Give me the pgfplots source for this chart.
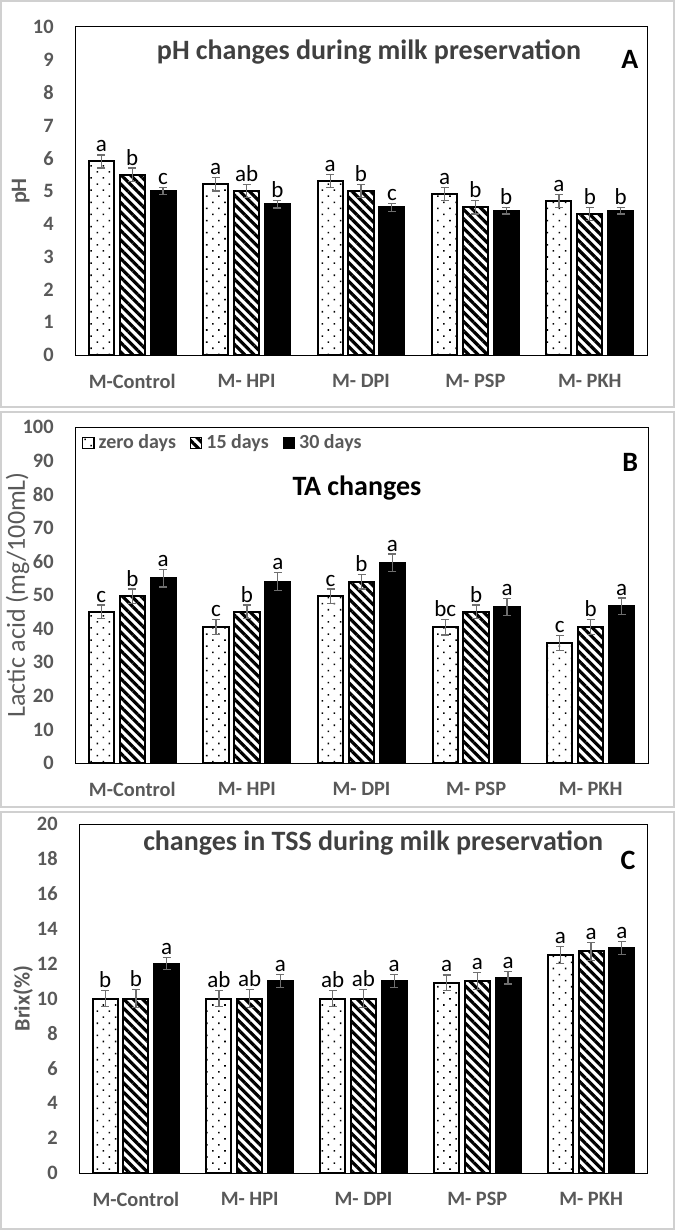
\documentclass[border=0pt]{standalone}
\usepackage{pgfplots}
\pgfplotsset{compat=1.18}
\usepackage{fontspec}
\setmainfont{Carlito}
\usetikzlibrary{patterns.meta}
\definecolor{tickgray}{HTML}{595959}
\definecolor{titlegray}{HTML}{404040}
\definecolor{framegray}{HTML}{D0D0D0}
\definecolor{errgray}{HTML}{6F6F6F}

\pgfplotsset{
  myax/.style={
    scale only axis, clip=false,
    xmin=-0.5, xmax=4.5, ymin=0,
    xtick={0,1,2,3,4},
    xticklabels={M-Control, M- HPI, M- DPI, M- PSP, M- PKH},
    major tick length=0pt,
    axis line style={black, line width=0.5pt},
    /pgf/number format/assume math mode=true,
    xticklabel style={font=\fontsize{10.2}{12}\selectfont\bfseries, text=tickgray, anchor=center, yshift=-13pt},
    yticklabel style={font=\fontsize{10.2}{12}\selectfont\bfseries, text=tickgray, anchor=east, inner sep=0pt, xshift=-10.5pt},
    every axis y label/.style={at={(axis description cs:-0.095,0.5)}, rotate=90, anchor=center, font=\fontsize{11}{13}\selectfont\bfseries, text=tickgray},
  },
  limg/.style={legend image code/.code={\draw[##1, line width=0.6pt] (0pt,-2.8pt) rectangle (5.6pt,2.8pt);}},
  b0/.style={ybar, bar width=0.22, bar shift=-0.27, draw=black, line width=1pt,
    pattern={Dots[radius=0.55pt, distance=4.3pt, angle=45]}, pattern color=black, limg},
  b1/.style={ybar, bar width=0.22, bar shift=0, draw=black, line width=1pt,
    pattern={Lines[angle=-45, distance=3.3pt, line width=1.6pt]}, pattern color=black, limg},
  b2/.style={ybar, bar width=0.22, bar shift=0.27, draw=black, line width=1pt,
    fill=black, limg},
  errp/.style={draw=none, mark=none, forget plot,
    error bars/.cd, y dir=both, y explicit,
    error bar style={errgray, line width=0.6pt},
    error mark options={rotate=90, errgray, mark size=2pt, line width=0.6pt}},
  lab/.style={draw=none, mark=none, forget plot, nodes near coords, point meta=explicit symbolic,
    nodes near coords align={above},
    every node near coord/.append style={font=\fontsize{11.5}{13}\selectfont, text=black, inner sep=1.2pt}},
}

\begin{document}
\begin{tikzpicture}
\path[use as bounding box] (0,0) rectangle (337.5pt,-615pt);
\draw[framegray, line width=1pt] (0.5pt,-0.5pt) rectangle (337pt,-203.5pt);
\draw[framegray, line width=1pt] (0.5pt,-206pt) rectangle (337pt,-403.5pt);
\draw[framegray, line width=1pt] (0.5pt,-406pt) rectangle (337pt,-614.5pt);

% ---------------- Panel A
\begin{axis}[myax, at={(37.5pt,-177.5pt)}, anchor=south west,
  width=286pt, height=164pt, ymax=10, ytick={0,1,...,10}, ylabel={pH}]
\addplot[b0] coordinates {(0,5.9) (1,5.2) (2,5.3) (3,4.9) (4,4.7)};
\addplot[b1] coordinates {(0,5.5) (1,5.0) (2,5.0) (3,4.5) (4,4.3)};
\addplot[b2] coordinates {(0,5.0) (1,4.6) (2,4.5) (3,4.4) (4,4.4)};
\addplot[errp] coordinates {(-0.27,5.9) +- (0,0.2) (0.73,5.2) +- (0,0.2) (1.73,5.3) +- (0,0.2) (2.73,4.9) +- (0,0.2) (3.73,4.7) +- (0,0.2)};
\addplot[errp] coordinates {(0,5.5) +- (0,0.2) (1,5.0) +- (0,0.2) (2,5.0) +- (0,0.2) (3,4.5) +- (0,0.2) (4,4.3) +- (0,0.2)};
\addplot[errp] coordinates {(0.27,5.0) +- (0,0.1) (1.27,4.6) +- (0,0.12) (2.27,4.5) +- (0,0.12) (3.27,4.4) +- (0,0.1) (4.27,4.4) +- (0,0.1)};
\addplot[lab] coordinates {(-0.27,6.1) [a] (0.73,5.4) [a] (1.73,5.5) [a] (2.73,5.1) [a] (3.73,4.9) [a]};
\addplot[lab] coordinates {(0,5.7) [b] (1,5.2) [ab] (2,5.2) [b] (3,4.7) [b] (4,4.5) [b]};
\addplot[lab] coordinates {(0.27,5.1) [c] (1.27,4.72) [b] (2.27,4.62) [c] (3.27,4.5) [b] (4.27,4.5) [b]};
\node[font=\fontsize{14}{16}\selectfont\bfseries, text=titlegray] at (rel axis cs:0.514,0.925) {pH changes during milk preservation};
\node[font=\fontsize{14}{16}\selectfont\bfseries, text=black] at (rel axis cs:0.97,0.90) {A};
\end{axis}

% ---------------- Panel B
\begin{axis}[myax, at={(37.5pt,-381.5pt)}, anchor=south west,
  width=286.5pt, height=168pt, ymax=100, ytick={0,10,...,100},
  ylabel={Lactic acid (mg/100mL)},
  every axis y label/.append style={at={(axis description cs:-0.1,0.5)}, font=\fontsize{13}{15}\selectfont},
  legend style={at={(axis description cs:0.012,0.952)}, anchor=west, draw=none, fill=none,
    legend columns=3, font=\fontsize{10}{12}\selectfont\bfseries, text=tickgray, inner sep=0pt,
    /tikz/every even column/.append style={column sep=5pt}},
  legend cell align=left]
\addplot[b0] coordinates {(0,45) (1,40.5) (2,49.6) (3,40.4) (4,35.8)};
\addplot[b1] coordinates {(0,49.6) (1,45) (2,54) (3,45) (4,40.4)};
\addplot[b2] coordinates {(0,55) (1,54) (2,59.6) (3,46.5) (4,46.7)};
\legend{zero days, 15 days, 30 days}
\addplot[errp] coordinates {(-0.27,45) +- (0,2) (0.73,40.5) +- (0,2.2) (1.73,49.6) +- (0,2.2) (2.73,40.4) +- (0,2.3) (3.73,35.8) +- (0,2.2)};
\addplot[errp] coordinates {(0,49.6) +- (0,2.2) (1,45) +- (0,2) (2,54) +- (0,2.2) (3,45) +- (0,2) (4,40.4) +- (0,2.2)};
\addplot[errp] coordinates {(0.27,55) +- (0,2.6) (1.27,54) +- (0,2.6) (2.27,59.6) +- (0,2.6) (3.27,46.5) +- (0,2.5) (4.27,46.7) +- (0,2.4)};
\addplot[lab] coordinates {(-0.27,47) [c] (0.73,42.7) [c] (1.73,51.8) [c] (2.73,42.7) [bc] (3.73,38) [c]};
\addplot[lab] coordinates {(0,51.8) [b] (1,47) [b] (2,56.2) [b] (3,47) [b] (4,42.6) [b]};
\addplot[lab] coordinates {(0.27,57.6) [a] (1.27,56.6) [a] (2.27,62.2) [a] (3.27,49) [a] (4.27,49.1) [a]};
\node[font=\fontsize{14}{16}\selectfont\bfseries, text=black] at (rel axis cs:0.492,0.818) {TA changes};
\node[font=\fontsize{14}{16}\selectfont\bfseries, text=black] at (rel axis cs:0.969,0.896) {B};
\end{axis}

% ---------------- Panel C
\begin{axis}[myax, at={(39.5pt,-586.5pt)}, anchor=south west,
  width=284.5pt, height=174.5pt, ymax=20, ytick={0,2,...,20}, ylabel={Brix(\%)},
  every axis y label/.append style={at={(axis description cs:-0.098,0.5)}}]
\addplot[b0] coordinates {(0,10) (1,10) (2,10) (3,10.9) (4,12.5)};
\addplot[b1] coordinates {(0,10) (1,10) (2,10) (3,11.0) (4,12.7)};
\addplot[b2] coordinates {(0,12.0) (1,11.0) (2,11.0) (3,11.2) (4,12.9)};
\addplot[errp] coordinates {(-0.27,10) +- (0,0.47) (0.73,10) +- (0,0.47) (1.73,10) +- (0,0.47) (2.73,10.9) +- (0,0.45) (3.73,12.5) +- (0,0.5)};
\addplot[errp] coordinates {(0,10) +- (0,0.5) (1,10) +- (0,0.5) (2,10) +- (0,0.5) (3,11.0) +- (0,0.5) (4,12.7) +- (0,0.5)};
\addplot[errp] coordinates {(0.27,12.0) +- (0,0.35) (1.27,11.0) +- (0,0.37) (2.27,11.0) +- (0,0.37) (3.27,11.2) +- (0,0.37) (4.27,12.9) +- (0,0.37)};
\addplot[lab] coordinates {(-0.27,10.47) [b] (0.73,10.47) [ab] (1.73,10.47) [ab] (2.73,11.35) [a] (3.73,13) [a]};
\addplot[lab] coordinates {(0,10.5) [b] (1,10.5) [ab] (2,10.5) [ab] (3,11.5) [a] (4,13.2) [a]};
\addplot[lab] coordinates {(0.27,12.35) [a] (1.27,11.37) [a] (2.27,11.37) [a] (3.27,11.57) [a] (4.27,13.27) [a]};
\node[font=\fontsize{14}{16}\selectfont\bfseries, text=titlegray] at (rel axis cs:0.517,0.946) {changes in TSS during milk preservation};
\node[font=\fontsize{14}{16}\selectfont\bfseries, text=black] at (rel axis cs:0.965,0.897) {C};
\end{axis}
\end{tikzpicture}
\end{document}
